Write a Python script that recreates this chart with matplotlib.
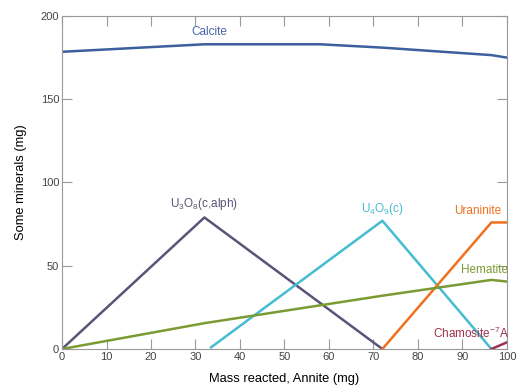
import matplotlib
matplotlib.use('Agg')
import matplotlib.pyplot as plt

plt.rcParams['font.family'] = ['Liberation Sans', 'DejaVu Sans']
plt.rcParams['mathtext.fontset'] = 'custom'
plt.rcParams['mathtext.rm'] = 'Liberation Sans'
plt.rcParams['mathtext.it'] = 'Liberation Sans'

# data (mass reacted in mg, mineral mass in mg)
calcite_x = [0, 32, 58, 72, 96.5, 100]
calcite_y = [178.5, 183, 183, 181, 176.5, 175]
u3o8_x = [0, 32, 72]
u3o8_y = [0, 79, 0]
u4o9_x = [33.5, 72, 96.5]
u4o9_y = [1, 77, 0]
uran_x = [72, 96.5, 100]
uran_y = [0, 76, 76]
hem_x = [0, 32, 72, 96.5, 100]
hem_y = [0, 15.5, 32, 41.5, 40.5]
cham_x = [96.5, 100]
cham_y = [0, 4]

xticks = [0, 10, 20, 30, 40, 50, 60, 70, 80, 90, 100]
yticks = [0, 50, 100, 150, 200]

fig = plt.figure(figsize=(5.18, 3.87), dpi=100)
ax = fig.add_axes([0.1197, 0.0982, 0.859, 0.8605])

ax.plot(calcite_x, calcite_y, color='#3b5f9f', lw=1.8)
ax.plot(u3o8_x, u3o8_y, color='#5a5478', lw=1.8)
ax.plot(u4o9_x, u4o9_y, color='#45bcd0', lw=1.8)
ax.plot(uran_x, uran_y, color='#f0701e', lw=1.8)
ax.plot(hem_x, hem_y, color='#7a9a32', lw=1.8)
ax.plot(cham_x, cham_y, color='#a0304f', lw=1.8)

fs = 8.5
ax.text(33, 186.5, 'Calcite', color='#4a64a8', fontsize=fs, ha='center', va='bottom')
ax.text(32, 82, r'U$_3$O$_8$(c,alph)', color='#5a5478', fontsize=fs, ha='center', va='bottom')
ax.text(72, 79.5, r'U$_4$O$_9$(c)', color='#45bcd0', fontsize=fs, ha='center', va='bottom')
ax.text(93.5, 79.5, 'Uraninite', color='#f0701e', fontsize=fs, ha='center', va='bottom')
ax.text(95, 44, 'Hematite', color='#7a9a32', fontsize=fs, ha='center', va='bottom')
ax.text(92, 5, r'Chamosite$^{-7}$A', color='#a0304f', fontsize=fs, ha='center', va='bottom')

ax.set_xlim(0, 100)
ax.set_ylim(0, 200)
ax.set_xticks(xticks)
ax.set_yticks(yticks)
ax.tick_params(direction='in', top=True, right=True, labelsize=8, labelcolor='#444444',
               color='#999999', length=7, width=0.8, pad=2)
for s in ax.spines.values():
    s.set_color('#999999')
ax.set_xlabel('Mass reacted, Annite (mg)', fontsize=9.3, labelpad=8)
ax.set_ylabel('Some minerals (mg)', fontsize=9.3, labelpad=10)

fig.savefig('out.png', dpi=100)
